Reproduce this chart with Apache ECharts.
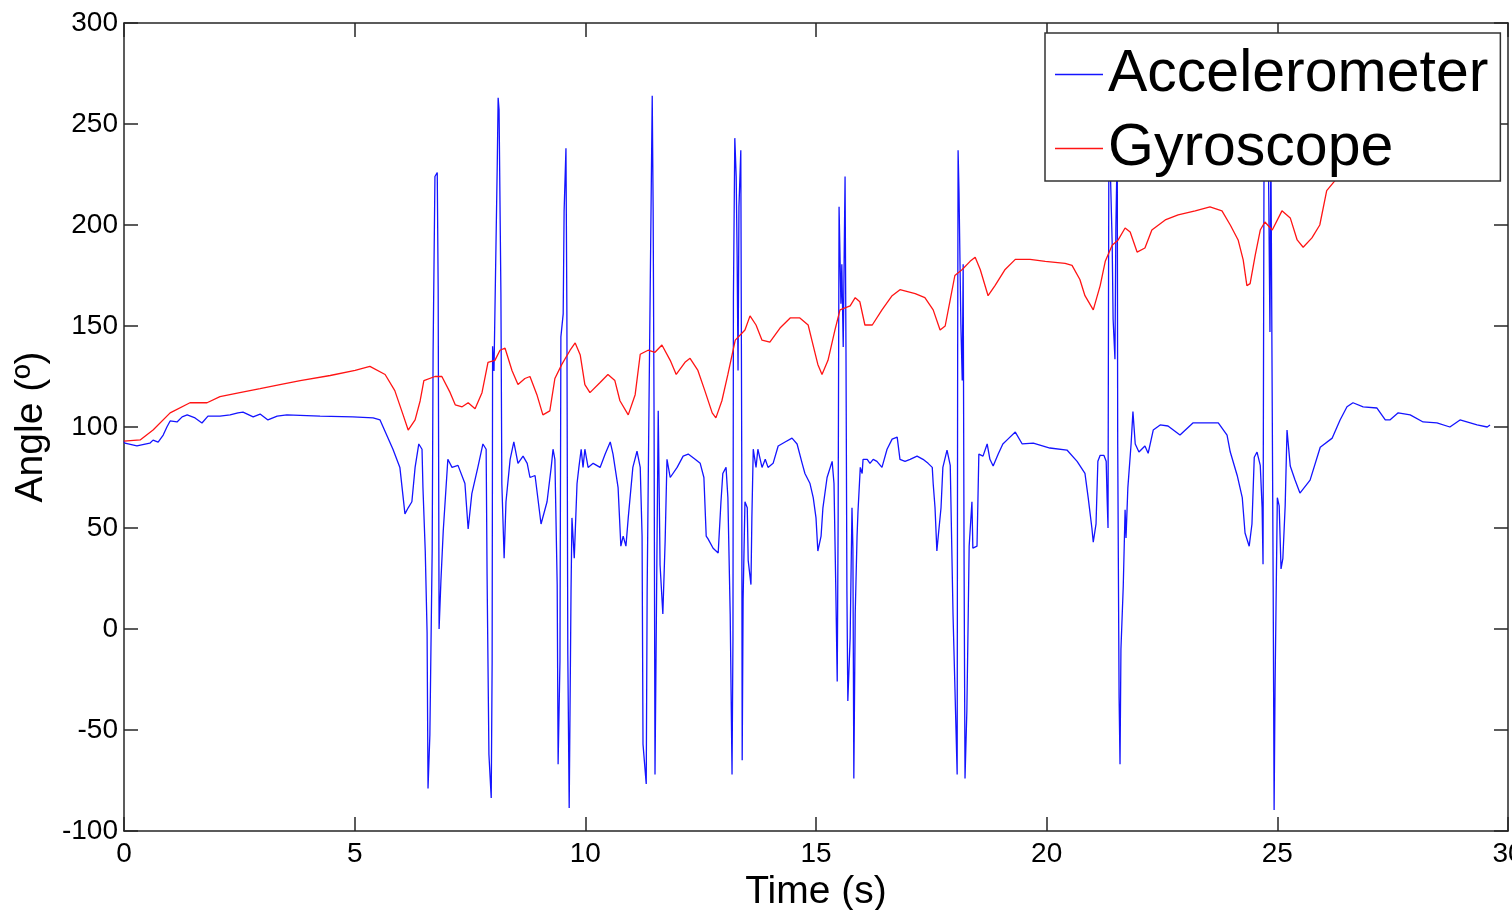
<!DOCTYPE html>
<html>
<head>
<meta charset="utf-8">
<script src="https://cdn.jsdelivr.net/npm/echarts@6/dist/echarts.min.js"></script>
<style>
html,body{margin:0;padding:0;background:#fff;}
#chart{width:1512px;height:910px;}
</style>
</head>
<body>
<div id="chart"></div>
<script>
// ---- DATA ----
const seriesNames = ['Accelerometer', 'Gyroscope'];
const xTicks = [0, 5, 10, 15, 20, 25, 30];
const yTicks = [-100, -50, 0, 50, 100, 150, 200, 250, 300];

// [time (s), angle (deg)]
const accelerometerData = [[0,93],[0.02,92],[0.28,90.6],[0.56,92],[0.63,93.5],[0.74,92.5],[0.85,96],[0.93,100],[1.00,103],[1.15,102.5],[1.26,105],[1.37,106],[1.54,104.5],[1.69,102],[1.82,105.4],[2.08,105.4],[2.30,106],[2.47,107],[2.58,107.4],[2.80,105],[2.95,106.4],[3.12,103.5],[3.32,105.4],[3.53,106],[4.25,105.4],[4.96,105],[5.40,104.5],[5.55,103.5],[5.83,89],[5.98,80],[6.09,57],[6.16,60],[6.24,63],[6.31,80],[6.39,91.6],[6.46,89],[6.48,70],[6.53,38.6],[6.57,-2],[6.59,-79],[6.63,-52.5],[6.68,38.6],[6.70,137],[6.74,224],[6.79,226],[6.81,168],[6.83,0],[6.87,24],[6.92,48.5],[7.02,84],[7.11,80],[7.24,81],[7.39,72],[7.46,49.5],[7.54,67],[7.67,80],[7.78,91.6],[7.85,89],[7.87,27],[7.91,-62],[7.96,-83.7],[7.98,-16],[7.99,140],[8.02,127.7],[8.09,228.7],[8.11,263],[8.13,257],[8.17,166],[8.19,72],[8.24,35],[8.28,63],[8.37,84],[8.45,92.6],[8.54,82],[8.65,85.6],[8.74,82],[8.80,75],[8.91,76],[9.04,52],[9.17,63],[9.26,80],[9.30,89],[9.34,84],[9.39,22],[9.41,-67],[9.45,-16],[9.47,144.6],[9.52,156],[9.54,207],[9.58,238],[9.60,156],[9.62,-12],[9.65,-88.6],[9.69,19],[9.71,55],[9.76,35],[9.82,72],[9.86,80],[9.91,89],[9.95,80],[9.99,89],[10.06,80],[10.17,82],[10.32,80],[10.43,86.6],[10.54,92.6],[10.60,86.6],[10.71,70],[10.77,41],[10.82,46],[10.88,41],[10.93,55],[11.03,80],[11.12,88],[11.19,80],[11.23,46],[11.25,-57],[11.32,-76.7],[11.34,19],[11.38,111],[11.45,264],[11.47,207],[11.49,103.5],[11.51,-72],[11.55,31.7],[11.58,108],[11.62,31.7],[11.68,7.4],[11.73,43.6],[11.77,84],[11.84,75],[11.99,80],[12.12,85.6],[12.23,86.6],[12.38,84],[12.49,82],[12.57,75],[12.62,46],[12.66,44.6],[12.77,40],[12.88,37.6],[12.94,63],[12.98,77],[13.05,80],[13.09,65],[13.14,7.4],[13.18,-72],[13.20,-4.5],[13.21,164],[13.24,243],[13.27,224],[13.29,185],[13.31,128],[13.33,209],[13.37,237],[13.39,86.6],[13.40,-65],[13.42,15],[13.46,63],[13.51,60],[13.53,34],[13.59,22],[13.61,55],[13.64,89],[13.70,80],[13.74,89],[13.83,80],[13.90,84],[13.96,80],[14.07,82],[14.18,90.6],[14.33,92.6],[14.48,94.5],[14.59,91.6],[14.70,82],[14.76,77],[14.87,72],[14.94,65],[15.00,55],[15.04,38.6],[15.11,46],[15.15,60],[15.24,75],[15.35,83],[15.39,72],[15.43,19],[15.46,-26],[15.48,55],[15.50,209],[15.54,161],[15.56,180.6],[15.59,139.6],[15.61,182.7],[15.63,224],[15.65,137],[15.67,19],[15.69,-35.6],[15.74,-4.5],[15.78,60],[15.80,40],[15.82,-74],[15.85,7.4],[15.89,46],[15.91,58],[15.96,80],[16.00,77],[16.02,84],[16.11,84],[16.17,82],[16.24,84],[16.32,83],[16.43,80],[16.54,89],[16.65,94],[16.76,95],[16.82,84],[16.93,83],[17.04,84],[17.19,85.6],[17.32,84],[17.43,82],[17.52,80],[17.54,72],[17.58,60],[17.62,38.6],[17.65,46],[17.71,60],[17.75,80],[17.84,88.6],[17.91,81],[17.97,7.4],[18.06,-72],[18.07,128],[18.08,237],[18.10,216],[18.14,151],[18.17,123],[18.19,180.6],[18.21,31.7],[18.23,-74],[18.27,-40.6],[18.30,7.4],[18.32,41],[18.38,63],[18.40,40],[18.49,41],[18.53,86.6],[18.62,85.6],[18.71,91.6],[18.77,84],[18.84,80.7],[18.95,86.6],[19.05,91.6],[19.16,94],[19.32,97.5],[19.47,91.6],[19.71,92],[20.07,89.6],[20.44,88.6],[20.66,83],[20.83,77],[20.90,65],[20.98,50],[21.01,43],[21.07,52],[21.11,83],[21.16,86],[21.24,86],[21.29,83],[21.31,65],[21.33,50],[21.34,158],[21.35,255],[21.37,255],[21.42,191],[21.44,153.5],[21.48,133.6],[21.50,198],[21.53,240],[21.54,91.6],[21.57,-34],[21.59,-67],[21.61,-10],[21.66,21],[21.70,59],[21.72,45],[21.76,70],[21.83,91.6],[21.87,107.6],[21.92,91.6],[22.00,87.6],[22.13,90.6],[22.20,87],[22.31,98.5],[22.46,101],[22.63,100.5],[22.89,96],[23.17,102],[23.72,102],[23.91,96],[23.98,87.6],[24.13,76],[24.24,65],[24.30,47.5],[24.39,41],[24.45,52],[24.50,85],[24.56,87.6],[24.63,81],[24.67,60],[24.69,32],[24.71,220],[24.73,260],[24.80,250],[24.84,147],[24.86,240],[24.91,21],[24.93,-89.6],[24.95,-30],[25.00,65],[25.04,61],[25.08,29.7],[25.12,35],[25.17,61],[25.21,98.5],[25.28,80.7],[25.38,74],[25.49,67.3],[25.71,73.7],[25.93,90],[26.19,94.5],[26.36,103.5],[26.51,110],[26.64,112],[26.86,110],[27.16,109.4],[27.34,103.5],[27.44,103.5],[27.62,107],[27.88,106],[28.16,102.5],[28.46,102],[28.74,100],[28.96,103.5],[29.33,101],[29.55,100],[29.61,101]];

const gyroscopeData = [[0,93],[0.35,93.6],[0.63,98.5],[1.00,107],[1.43,112],[1.80,112],[2.08,115],[2.51,117],[2.95,119],[3.38,121],[3.82,123],[4.47,125.5],[5.01,128],[5.33,130],[5.66,126],[5.87,118],[6.05,106],[6.16,98.5],[6.31,103.5],[6.42,113],[6.50,123],[6.74,125],[6.89,125],[7.07,117],[7.18,111],[7.33,110],[7.46,112],[7.61,109],[7.76,117],[7.89,132],[8.04,133],[8.15,138],[8.26,139],[8.41,128],[8.54,121],[8.69,124],[8.80,125],[8.95,116],[9.08,106],[9.23,108],[9.34,124],[9.49,131],[9.67,138],[9.78,141.6],[9.89,135.6],[9.99,121],[10.10,117],[10.32,122],[10.49,126],[10.64,123],[10.75,113],[10.93,106],[11.08,116],[11.19,136],[11.36,138],[11.51,137],[11.66,140.6],[11.84,133],[11.97,126],[12.16,132],[12.27,134],[12.44,128],[12.59,118],[12.75,107],[12.83,104.5],[12.96,113],[13.09,126],[13.25,143],[13.46,148],[13.57,155],[13.70,150.5],[13.83,143],[14.00,142],[14.22,149],[14.44,154],[14.65,154],[14.83,150.5],[14.91,143],[15.04,131],[15.13,126],[15.26,133],[15.41,148],[15.52,158],[15.74,160],[15.85,164],[15.95,162],[16.06,150.5],[16.22,150.5],[16.43,158],[16.65,165],[16.82,168],[17.15,166],[17.36,164],[17.54,158],[17.69,148],[17.80,150],[17.91,163],[18.01,175],[18.17,178],[18.34,182],[18.45,184],[18.56,178],[18.73,165],[18.88,170],[19.10,178],[19.32,183],[19.64,183],[19.97,182],[20.40,181],[20.55,180],[20.72,173],[20.83,165],[21.01,158],[21.16,170],[21.27,182],[21.42,190],[21.55,192.6],[21.70,198.5],[21.81,196.5],[21.96,186.6],[22.13,188.6],[22.28,197.5],[22.57,202.5],[22.85,205],[23.22,207],[23.54,209],[23.80,207],[23.98,200],[24.15,192.6],[24.26,182.7],[24.34,170],[24.41,171],[24.52,185],[24.63,197.5],[24.73,201.5],[24.89,197.5],[25.10,207],[25.28,203.5],[25.43,192.6],[25.56,189],[25.75,193.6],[25.92,200],[26.07,217],[26.25,222],[26.6,232],[27.2,245],[28.0,255],[28.8,262],[29.5,268]];

const xTitle = 'Time (s)';
const yTitle = 'Angle (º)';

// ---- CHART ----
const FONT = '"Liberation Sans", Arial, sans-serif';
const AX = '#262626';
const xMin = xTicks[0], xMax = xTicks[xTicks.length - 1], xStep = xTicks[1] - xTicks[0];
const yMin = yTicks[0], yMax = yTicks[yTicks.length - 1], yStep = yTicks[1] - yTicks[0];

const chart = echarts.init(document.getElementById('chart'), null, {renderer: 'canvas'});

function axisCommon(extra) {
  return Object.assign({
    axisLine: {show: true, onZero: false, lineStyle: {color: AX, width: 1.5}},
    axisTick: {show: true, inside: true, length: 14, lineStyle: {color: AX, width: 1.5}},
    splitLine: {show: false}
  }, extra);
}

chart.setOption({
  animation: false,
  backgroundColor: '#ffffff',
  grid: {left: 124, right: 4, top: 23, bottom: 79, containLabel: false, outerBoundsMode: 'none'},
  legend: {
    show: true,
    data: seriesNames,
    orient: 'vertical',
    left: 1045,
    top: 33,
    padding: [9, 12, 0, 10],
    itemGap: 9,
    itemWidth: 48,
    itemHeight: 1.5,
    icon: 'rect',
    backgroundColor: '#ffffff',
    borderColor: '#333333',
    borderWidth: 1.5,
    borderRadius: 0,
    z: 10,
    textStyle: {fontFamily: FONT, fontSize: 59, lineHeight: 65, color: '#000'}
  },
  xAxis: [
    axisCommon({
      type: 'value', position: 'bottom', min: xMin, max: xMax, interval: xStep,
      name: xTitle, nameLocation: 'middle', nameGap: 38,
      nameTextStyle: {fontFamily: FONT, fontSize: 39, color: '#000'},
      axisLabel: {show: true, margin: 9, fontFamily: FONT, fontSize: 28, color: '#000',
                  showMinLabel: true, showMaxLabel: true, hideOverlap: false}
    }),
    axisCommon({
      type: 'value', position: 'top', min: xMin, max: xMax, interval: xStep,
      axisLabel: {show: false}
    })
  ],
  yAxis: [
    axisCommon({
      type: 'value', position: 'left', min: yMin, max: yMax, interval: yStep,
      name: yTitle, nameLocation: 'middle', nameGap: 72, nameRotate: 90,
      nameTextStyle: {fontFamily: FONT, fontSize: 39, color: '#000'},
      axisLabel: {show: true, margin: 6, fontFamily: FONT, fontSize: 28, color: '#000',
                  showMinLabel: true, showMaxLabel: true, hideOverlap: false}
    }),
    axisCommon({
      type: 'value', position: 'right', min: yMin, max: yMax, interval: yStep,
      axisLabel: {show: false}
    })
  ],
  series: [
    {
      name: seriesNames[0], type: 'line', xAxisIndex: 0, yAxisIndex: 0,
      data: accelerometerData, symbol: 'none', showSymbol: false, smooth: false,
      sampling: null, z: 2,
      lineStyle: {color: '#1414ff', width: 1.3},
      itemStyle: {color: '#1414ff'}
    },
    {
      name: seriesNames[1], type: 'line', xAxisIndex: 0, yAxisIndex: 0,
      data: gyroscopeData, symbol: 'none', showSymbol: false, smooth: false,
      sampling: null, z: 3,
      lineStyle: {color: '#ff1414', width: 1.3},
      itemStyle: {color: '#ff1414'}
    }
  ]
});
</script>
</body>
</html>
